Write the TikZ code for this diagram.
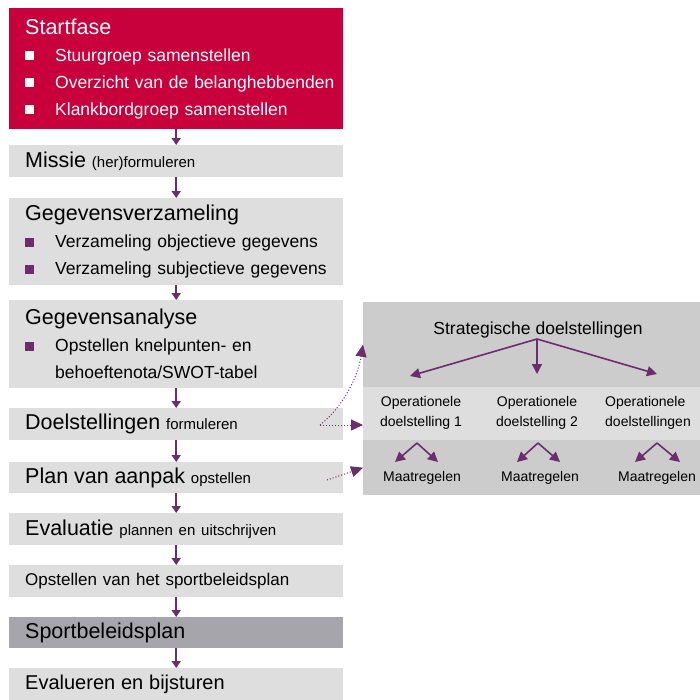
\documentclass[tikz,border=0pt]{standalone}
\usepackage{fontspec}
\setmainfont{Liberation Sans}
\usetikzlibrary{arrows.meta}
\definecolor{startred}{HTML}{C8003C}
\definecolor{stapgrijs}{HTML}{DEDEDE}
\definecolor{plangrijs}{HTML}{A5A5AB}
\definecolor{paneelgrijs}{HTML}{CCCCCC}
\definecolor{paars}{HTML}{6B2D6E}
\newcommand{\kop}[1]{{\fontsize{21.5}{27}\selectfont #1}}
\newcommand{\klein}[1]{{\fontsize{15}{27}\selectfont #1}}
\newcommand{\blok}{\makebox[30pt][l]{\raisebox{1pt}{\rule{9pt}{9pt}}}}
\newcommand{\paarsblok}{\makebox[30pt][l]{\textcolor{paars}{\raisebox{1pt}{\rule{9pt}{9pt}}}}}

\begin{document}
\begin{tikzpicture}[x=1pt,y=-1pt,
    stap/.style={rectangle, fill=stapgrijs, anchor=north west, minimum width=334pt,
      text width=302pt, inner xsep=16pt, inner ysep=0pt, align=left,
      font=\fontsize{17.5}{27}\selectfont},
    paneel/.style={rectangle, fill=paneelgrijs, anchor=north west, minimum width=337pt, inner sep=0pt},
    pijl/.style={paars, line width=2pt, -{Triangle[length=7pt,width=9pt]}},
    stippel/.style={paars, dotted, line width=1pt, -{Triangle[length=12pt,width=11pt]}},
    klpijl/.style={paars, line width=1.6pt, -{Triangle[length=10pt,width=10pt]}},
    optekst/.style={align=center, font=\fontsize{14}{20}\selectfont, inner sep=0pt}]
  \useasboundingbox (0,0) rectangle (700,699);

  % linker kolom
  \node[stap, fill=startred, text=white, minimum height=121pt] (start) at (9,8)
    {\kop{Startfase}\\ \blok Stuurgroep samenstellen\\ \mbox{\blok Overzicht van de belanghebbenden}\\ \blok Klankbordgroep samenstellen};
  \node[stap, minimum height=32pt] (missie) at (9,145) {\kop{Missie} \klein{(her)formuleren}};
  \node[stap, minimum height=87pt] (verz) at (9,198)
    {\kop{Gegevensverzameling}\\ \paarsblok Verzameling objectieve gegevens\\ \paarsblok Verzameling subjectieve gegevens};
  \node[stap, minimum height=88pt] (anal) at (9,300)
    {\kop{Gegevensanalyse}\\ \paarsblok Opstellen knelpunten- en\\ \hspace*{30pt}behoeftenota/SWOT-tabel};
  \node[stap, minimum height=32pt] (doel) at (9,408) {\kop{Doelstellingen} \klein{formuleren}};
  \node[stap, minimum height=31pt] (plan) at (9,462) {\kop{Plan van aanpak} \klein{opstellen}};
  \node[stap, minimum height=32pt] (eval) at (9,513) {\kop{Evaluatie} \klein{plannen en uitschrijven}};
  \node[stap, minimum height=32pt] (opst) at (9,565) {\fontsize{17}{27}\selectfont Opstellen van het sportbeleidsplan};
  \node[stap, fill=plangrijs, minimum height=31pt] (sport) at (9,617) {\kop{Sportbeleidsplan}};
  \node[stap, minimum height=32pt] (bijst) at (9,668) {\fontsize{20}{27}\selectfont Evalueren en bijsturen};

  \draw[pijl] (start.south) -- (missie.north);
  \draw[pijl] (missie.south) -- (verz.north);
  \draw[pijl] (verz.south) -- (anal.north);
  \draw[pijl] (anal.south) -- (doel.north);
  \draw[pijl] (doel.south) -- (plan.north);
  \draw[pijl] (plan.south) -- (eval.north);
  \draw[pijl] (eval.south) -- (opst.north);
  \draw[pijl] (opst.south) -- (sport.north);
  \draw[pijl] (sport.south) -- (bijst.north);

  % rechter paneel
  \node[paneel, minimum height=85pt] (strat) at (363,302) {};
  \node[paneel, fill=stapgrijs, minimum height=53pt] (oper) at (363,387) {};
  \node[paneel, minimum height=55pt] (maat) at (363,440) {};

  \node[optekst, font=\fontsize{17.5}{20}\selectfont] (strtekst) at (538,330) {Strategische doelstellingen};
  \node[optekst] (op1) at (421,413) {Operationele\\doelstelling 1};
  \node[optekst] (op2) at (537,413) {Operationele\\doelstelling 2};
  \node[optekst, align=left, anchor=west] (op3) at (605,413) {Operationele\\doelstellingen};
  \node[optekst] (m1) at (422,478) {Maatregelen};
  \node[optekst] (m2) at (540,478) {Maatregelen};
  \node[optekst] (m3) at (657,478) {Maatregelen};

  \draw[klpijl] (537,339) -- (410,376);
  \draw[klpijl] (537,339) -- (537,374);
  \draw[klpijl] (537,339) -- (657,374);

  \coordinate (top1) at (417,443);
  \coordinate (top2) at (538,443);
  \coordinate (top3) at (657,443);
  \draw[klpijl] (top1) -- ++(-22,19);
  \draw[klpijl] (top1) -- ++(21,19);
  \draw[klpijl] (top2) -- ++(-21,19);
  \draw[klpijl] (top2) -- ++(22,19);
  \draw[klpijl] (top3) -- ++(-22,19);
  \draw[klpijl] (top3) -- ++(23,19);

  % stippellijnen
  \coordinate (doeluit) at (320,425);
  \coordinate (planuit) at (327,480);
  \coordinate (operin) at (363,425);
  \draw[stippel] (doeluit) .. controls (345,405) and (358,375) .. (strat.west);
  \draw[stippel] (doeluit) -- (operin);
  \draw[stippel] (planuit) -- (maat.west);
\end{tikzpicture}
\end{document}
